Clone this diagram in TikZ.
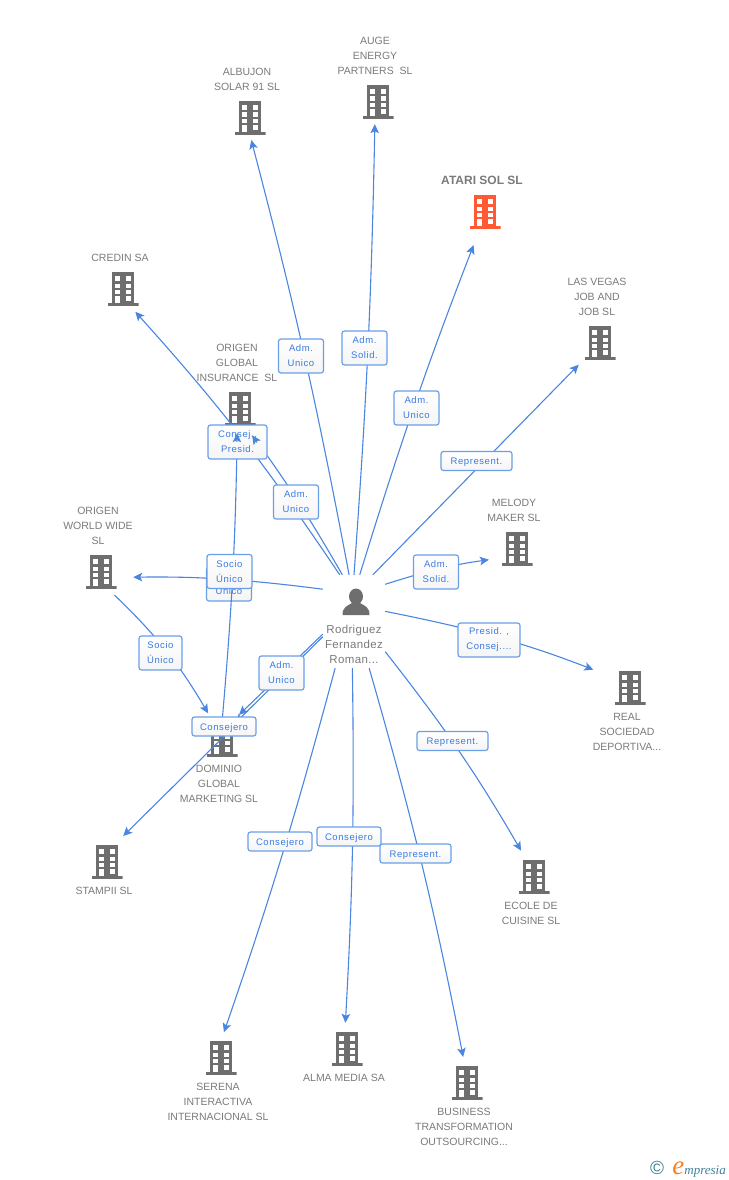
\documentclass[tikz,border=0pt]{standalone}
\usepackage{fontspec}
\setmainfont{Liberation Sans}
\newfontfamily\tagfont[LetterSpace=6]{Liberation Sans}
\newfontfamily\namefont[LetterSpace=3]{Liberation Sans}
\newfontfamily\logofont{Liberation Serif}
\usetikzlibrary{arrows.meta,positioning}

\definecolor{icongray}{HTML}{6E6E6E}
\definecolor{iconred}{HTML}{FF5A33}
\definecolor{textgray}{HTML}{7A7A7A}
\definecolor{linkblue}{HTML}{4A86E0}
\definecolor{tagblue}{HTML}{3A7BDF}
\definecolor{tagedge}{HTML}{6A9FE8}
\definecolor{logoteal}{HTML}{3F7F96}
\definecolor{logoorange}{HTML}{F58220}

\tikzset{
    bldg/.style={minimum width=31pt, minimum height=34pt, inner sep=0pt, path picture={
        \begin{scope}[shift={(path picture bounding box.center)}]
            \fill[#1] (-11,-17) rectangle (11,14);
            \fill[#1] (-15.5,14) rectangle (15.5,17);
            \foreach \wy in {-13,-5.5,0.7,7} {
                \fill[white] (-8,\wy) rectangle (-3.3,\wy+4.6);
                \fill[white] (3,\wy) rectangle (7.7,\wy+4.6);
            }
            \fill[white] (-8,7) rectangle (-3.3,14);
        \end{scope}
    }},
    nm/.style={inner sep=0pt, xshift=-3pt, text=textgray, align=center, font=\fontsize{10.5}{15}\selectfont},
    tag/.style={draw=tagedge, line width=1.2pt, rounded corners=2.5pt, top color=white, bottom color=black!4,
        minimum width=45pt, minimum height=34pt, inner sep=0pt, text=tagblue, align=center,
        font=\tagfont\fontsize{9.5}{15}\selectfont, execute at begin node=\rule{0pt}{9pt}},
    tagline/.style={tag, minimum height=19pt},
    link/.style={->, >={Stealth[length=9pt,width=8.5pt,inset=2pt]}, color=linkblue, line width=1.1pt}
}

\begin{document}
\begin{tikzpicture}[x=1pt, y=-1pt]
            \useasboundingbox (0,0) rectangle (728,1180);

            % Buildings
            \node[bldg=icongray] (albujon) at (250,118) {};
            \node[bldg=icongray] (auge) at (378,102) {};
            \node[bldg=iconred] (atari) at (485,212) {};
            \node[bldg=icongray] (credin) at (123,289) {};
            \node[bldg=icongray] (vegas) at (600,343) {};
            \node[bldg=icongray] (insurance) at (240,409) {};
            \node[bldg=icongray] (worldwide) at (101,572) {};
            \node[bldg=icongray] (melody) at (517,549) {};
            \node[bldg=icongray] (real) at (630,688) {};
            \node[bldg=icongray] (dominio) at (222,740) {};
            \node[bldg=icongray] (stampii) at (107,862) {};
            \node[bldg=icongray] (ecole) at (534,877) {};
            \node[bldg=icongray] (serena) at (221,1058) {};
            \node[bldg=icongray] (alma) at (347,1049) {};
            \node[bldg=icongray] (business) at (467,1083) {};

            % Names
            \node[nm, above=10pt of albujon] (albujonname) {ALBUJON\\SOLAR 91 SL};
            \node[nm, above=10pt of auge] (augename) {AUGE\\ENERGY\\PARTNERS~ SL};
            \node[nm, above=10pt of atari, font=\bfseries\fontsize{12}{15}\selectfont] (atariname) {ATARI SOL SL};
            \node[nm, above=10pt of credin] (credinname) {CREDIN SA};
            \node[nm, above=10pt of vegas] (vegasname) {LAS VEGAS\\JOB AND\\JOB SL};
            \node[nm, above=10pt of insurance] (insurancename) {ORIGEN\\GLOBAL\\INSURANCE~ SL};
            \node[nm, above=10pt of worldwide] (worldwidename) {ORIGEN\\WORLD WIDE\\SL};
            \node[nm, above=10pt of melody] (melodyname) {MELODY\\MAKER SL};
            \node[nm, below=8pt of real] (realname) {REAL\\SOCIEDAD\\DEPORTIVA...};
            \node[nm, below=8pt of dominio] (dominioname) {DOMINIO\\GLOBAL\\MARKETING SL};
            \node[nm, below=8pt of stampii] (stampiiname) {STAMPII SL};
            \node[nm, below=8pt of ecole] (ecolename) {ECOLE DE\\CUISINE SL};
            \node[nm, below=8pt of serena] (serenaname) {SERENA\\INTERACTIVA\\INTERNACIONAL SL};
            \node[nm, below=8pt of alma] (almaname) {ALMA MEDIA SA};
            \node[nm, below=8pt of business] (businessname) {BUSINESS\\TRANSFORMATION\\OUTSOURCING...};

            % Person
            \node[minimum width=62pt, minimum height=93pt, inner sep=0pt] (person) at (354,621.5) {};
            \fill[icongray] (356,596.5) ellipse (7 and 8);
            \fill[icongray] (342.5,615) .. controls (342.5,607) and (347,606) .. (352,603) -- (360,603)
                .. controls (365,606) and (369.5,607) .. (369.5,615) -- cycle;
            \node[inner sep=0pt, text=textgray, align=center, font=\namefont\fontsize{11.5}{15}\selectfont] (personname) at (354,644) {Rodriguez\\Fernandez\\Roman...};

            % Tag under the lines
            \node[tag] (admworld) at (229,584) {Adm.\\Unico};

            % Lines
            \draw[link, shorten >=5pt] (person.96) to[bend right=2] (albujon.south);
            \draw[link, shorten >=5pt] (person.90) to[bend right=1.5] (auge.260);
            \draw[link, shorten >=17pt] (person.83) to[bend left=2] (atari.253);
            \draw[link, shorten >=8pt] (person.68) to (vegas);
            \draw[link, shorten >=12.5pt] (person.50) to[bend left=5] (melody.210);
            \draw[link, shorten >=22.5pt] (person.18) to[bend left=5] (real.147);
            \draw[link, shorten >=10.5pt] (person.-44) to[bend left=4] (ecole.114);
            \draw[link, shorten >=9pt] (person.-72) to[bend left=2.5] (business.97);
            \draw[link, shorten >=9pt] (person.-92) to[bend left=2] (alma.97);
            \draw[link, shorten >=9pt] (person.-112) to[bend left=2] (serena.north);
            \draw[link, shorten >=16.5pt] (person.134) to[bend right=4] (worldwide.-19);
            \draw[link, shorten >=7.5pt] (person.107) to[bend right=4] (credin.-67);
            \draw[link, shorten >=11pt] (person.104) to[bend right=3] (insurance.-71);
            \draw[link, shorten >=11.5pt] (person.202) to (dominio.63);
            \draw[link] (person.206) to (dominio.52);
            \draw[link, shorten <=8.5pt, shorten >=11pt] (worldwide.-67) to[bend left=8] (dominio.116);
            \draw[link, shorten >=7pt] (dominio.north) to[bend right=2] (insurance.261);
            \draw[link, shorten >=12.5pt] (dominio.north east) to (stampii.67);

            % Tags
            \node[tag] (admalbujon) at (301,356) {Adm.\\Unico};
            \node[tag] (solauge) at (364.5,348) {Adm.\\Solid.};
            \node[tag] (admatari) at (416.5,408) {Adm.\\Unico};
            \node[tagline, minimum width=71pt] (repvegas) at (476.5,461) {Represent.};
            \node[tag, minimum width=59pt] (conins) at (237.5,442) {Consej.,\\Presid.};
            \node[tag] (adminsur) at (296,502) {Adm.\\Unico};
            \node[tag] (solmelody) at (436,572) {Adm.\\Solid.};
            \node[tag] (socioins) at (229.5,571.5) {Socio\\Único};
            \node[tag, minimum width=62pt] (prereal) at (489,640) {Presid. ,\\Consej....};
            \node[tag, minimum width=43pt] (socioworld) at (160.5,653) {Socio\\Único};
            \node[tag] (admdominio) at (281.5,673) {Adm.\\Unico};
            \node[tagline, minimum width=64pt] (condominio) at (224,726.5) {Consejero};
            \node[tagline, minimum width=71pt] (repecole) at (452.5,741) {Represent.};
            \node[tagline, minimum width=64pt] (conserena) at (280,841.5) {Consejero};
            \node[tagline, minimum width=64pt] (conalma) at (349,836.5) {Consejero};
            \node[tagline, minimum width=71pt] (repbusiness) at (415.5,853.5) {Represent.};

            % Tips over the tag
            \coordinate (tipa) at (257,442.5);
            \coordinate (tipb) at (236.9,442);
            \draw[link, shorten >=11pt] (tipa) -- (insurance.-71);
            \draw[link, shorten >=7pt] (tipb) -- (insurance.261);

            % Logo
            \node[inner sep=0pt, text=logoteal, font=\fontsize{19}{19}\selectfont] (copyr) at (657,1168) {©};
            \node[inner sep=0pt, anchor=base east, font=\logofont\itshape\fontsize{13}{13}\selectfont, text=logoteal] (logo) at (726,1174) {{\color{logoorange}\fontsize{27}{27}\selectfont e}mpresia};
        \end{tikzpicture}
\end{document}
